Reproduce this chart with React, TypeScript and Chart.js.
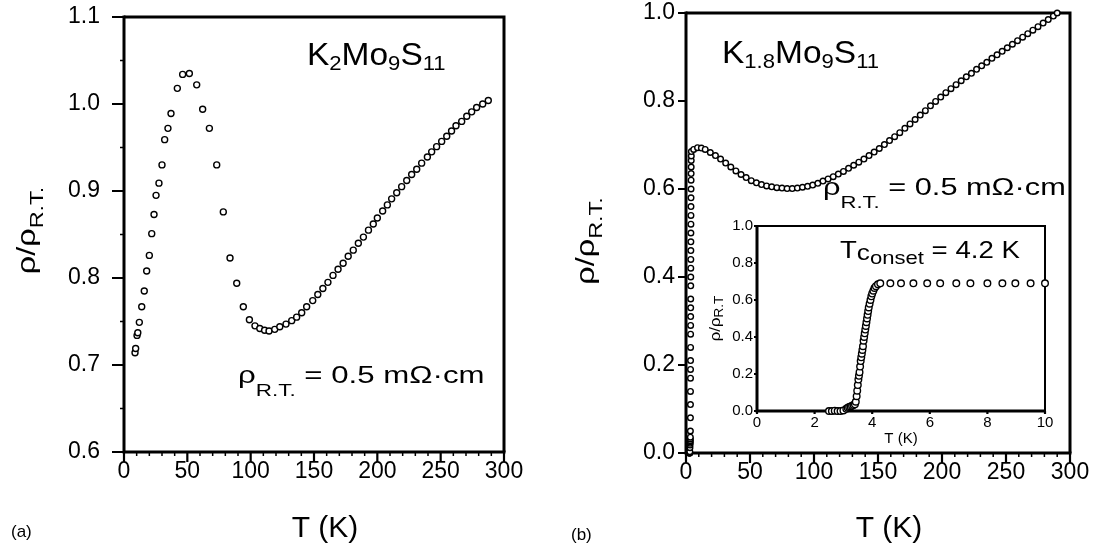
import React, { useEffect, useRef } from "react";
import { Chart, registerables } from "chart.js";

Chart.register(...registerables);

const FONT = "'Liberation Sans', Arial, Helvetica, sans-serif";

// ---------- Panel (a): K2Mo9S11 ----------
const aTemps = [8.7, 9.2, 10.3, 10.9, 12.1, 14.0, 16.0, 17.9, 20.0, 21.9, 23.7, 25.3, 27.6, 30.0, 32.1, 34.7, 37.1, 42.1, 46.3, 51.6, 57.4, 62.1, 67.4, 73.2, 78.4, 83.7, 89.0, 94.2, 99.0, 103.4, 107.2, 111.0, 114.5, 119.0, 123.0, 127.9, 132.4, 136.3, 140.3, 144.2, 149.0, 153.0, 157.0, 161.0, 165.0, 169.0, 173.0, 177.0, 181.0, 185.0, 189.0, 193.0, 196.8, 200.0, 204.2, 207.9, 211.3, 215.3, 219.2, 223.2, 227.1, 231.1, 235.0, 239.5, 242.9, 246.8, 250.8, 254.8, 258.6, 262.1, 266.6, 270.6, 274.5, 278.4, 283.2, 287.6];
const aRho = [0.714, 0.719, 0.734, 0.737, 0.749, 0.767, 0.785, 0.808, 0.826, 0.851, 0.873, 0.895, 0.909, 0.930, 0.959, 0.972, 0.989, 1.018, 1.034, 1.035, 1.022, 0.994, 0.972, 0.930, 0.876, 0.823, 0.794, 0.767, 0.752, 0.745, 0.742, 0.740, 0.739, 0.741, 0.744, 0.747, 0.751, 0.755, 0.760, 0.767, 0.774, 0.781, 0.788, 0.795, 0.803, 0.810, 0.817, 0.825, 0.832, 0.840, 0.847, 0.855, 0.862, 0.869, 0.877, 0.884, 0.891, 0.898, 0.905, 0.912, 0.919, 0.925, 0.932, 0.939, 0.945, 0.951, 0.957, 0.963, 0.969, 0.975, 0.980, 0.986, 0.991, 0.996, 1.000, 1.004];
const aXTicks = [0, 50, 100, 150, 200, 250, 300];
const aXMinor = [10, 20, 30, 40, 60, 70, 80, 90, 110, 120, 130, 140, 160, 170, 180, 190, 210, 220, 230, 240, 260, 270, 280, 290];
const aYTicks = [0.6, 0.7, 0.8, 0.9, 1.0, 1.1];
const aYMinor = [0.65, 0.75, 0.85, 0.95, 1.05];

// ---------- Panel (b): K1.8Mo9S11 ----------
const bTemps = [6, 9, 12, 15, 19, 23, 27, 31, 35, 39, 43, 47, 51, 55, 59, 63, 67, 71, 75, 79, 83, 87, 91, 95, 99, 103, 107, 111, 115, 119, 123, 127, 131, 135, 139, 143, 147, 151, 155, 159, 163, 167, 171, 175, 179, 183, 187, 191, 195, 199, 203, 207, 211, 215, 219, 223, 227, 231, 235, 239, 243, 247, 251, 255, 259, 263, 267, 271, 275, 279, 283, 287, 290];
const bRho = [0.690, 0.694, 0.693, 0.690, 0.683, 0.676, 0.668, 0.659, 0.650, 0.641, 0.633, 0.626, 0.619, 0.614, 0.610, 0.607, 0.605, 0.603, 0.602, 0.601, 0.601, 0.602, 0.604, 0.606, 0.609, 0.613, 0.618, 0.623, 0.628, 0.634, 0.640, 0.647, 0.654, 0.661, 0.668, 0.676, 0.684, 0.692, 0.701, 0.710, 0.719, 0.728, 0.738, 0.748, 0.758, 0.768, 0.778, 0.789, 0.799, 0.809, 0.819, 0.828, 0.837, 0.846, 0.855, 0.863, 0.872, 0.880, 0.888, 0.897, 0.905, 0.913, 0.921, 0.929, 0.937, 0.945, 0.953, 0.961, 0.969, 0.977, 0.985, 0.993, 1.000];
const bXTicks = [0, 50, 100, 150, 200, 250, 300];
const bXMinor = [10, 20, 30, 40, 60, 70, 80, 90, 110, 120, 130, 140, 160, 170, 180, 190, 210, 220, 230, 240, 260, 270, 280, 290];
const bYTicks = [0.0, 0.2, 0.4, 0.6, 0.8, 1.0];

// ---------- Inset: low-temperature transition ----------
const insetTemps = [2.5, 2.6, 2.7, 2.8, 2.9, 3.0, 3.1, 3.15, 3.2, 3.25, 3.3, 3.35, 3.4, 3.43, 3.46, 3.48, 3.5, 3.52, 3.54, 3.56, 3.58, 3.6, 3.62, 3.64, 3.66, 3.68, 3.7, 3.72, 3.74, 3.76, 3.78, 3.8, 3.82, 3.84, 3.86, 3.88, 3.91, 3.94, 3.97, 4.0, 4.04, 4.08, 4.13, 4.2, 4.28, 4.63, 5.0, 5.43, 5.91, 6.36, 6.92, 7.41, 8.0, 8.52, 8.97, 9.5, 10.0];
const insetRho = [0, 0, 0.002, 0, 0, 0.003, 0.012, 0.018, 0.022, 0.025, 0.028, 0.032, 0.036, 0.05, 0.08, 0.11, 0.14, 0.17, 0.19, 0.21, 0.24, 0.27, 0.29, 0.31, 0.33, 0.35, 0.38, 0.40, 0.42, 0.44, 0.46, 0.48, 0.50, 0.52, 0.54, 0.56, 0.58, 0.60, 0.62, 0.635, 0.65, 0.665, 0.675, 0.685, 0.69, 0.69, 0.69, 0.69, 0.69, 0.69, 0.69, 0.69, 0.69, 0.69, 0.69, 0.69, 0.69];
const insetXTicks = [0, 2, 4, 6, 8, 10];
const insetYTicks = [0.0, 0.2, 0.4, 0.6, 0.8, 1.0];

type Part = { t: string; sub?: boolean; scale?: number; dy?: number };
type RichOpts = { size: number; sx?: number; subScale?: number; subDy?: number; center?: boolean; rotate?: boolean };

function drawRich(ctx: CanvasRenderingContext2D, parts: Part[], x: number, y: number, o: RichOpts) {
  const sx = o.sx ?? 1;
  const ss = o.subScale ?? 0.68;
  const dy = o.subDy ?? 5;
  const sizeOf = (p: Part) => (p.scale ? o.size * p.scale : p.sub ? o.size * ss : o.size);
  const dyOf = (p: Part) => (p.dy !== undefined ? p.dy : p.sub ? dy : 0);
  ctx.save();
  ctx.fillStyle = "#000";
  ctx.textBaseline = "alphabetic";
  ctx.textAlign = "left";
  const widths = parts.map((p) => {
    ctx.font = `${sizeOf(p)}px ${FONT}`;
    return ctx.measureText(p.t).width;
  });
  const total = widths.reduce((a, b) => a + b, 0);
  ctx.translate(x, y);
  if (o.rotate) ctx.rotate(-Math.PI / 2);
  ctx.scale(sx, 1);
  let cx = o.center ? -total / 2 : 0;
  parts.forEach((p, i) => {
    ctx.font = `${sizeOf(p)}px ${FONT}`;
    ctx.fillText(p.t, cx, dyOf(p));
    cx += widths[i];
  });
  ctx.restore();
}

type TickSpec = {
  xMajor: number[];
  xMinor: number[];
  yMajor: number[];
  yMinor: number[];
  xMajorLen: number;
  xMinorLen: number;
  yMajorLen: number;
  yMinorLen: number;
  axisWidth: number;
  frameWidth: number;
  fillArea?: boolean;
};

function framePlugin(spec: TickSpec, texts: (ctx: CanvasRenderingContext2D, chart: any) => void) {
  return {
    id: "frame",
    beforeDraw(chart: any) {
      if (!spec.fillArea) return;
      const { left, top, right, bottom } = chart.chartArea;
      const ctx = chart.ctx;
      ctx.save();
      ctx.fillStyle = "#fff";
      ctx.fillRect(left, top, right - left, bottom - top);
      ctx.restore();
    },
    beforeDatasetsDraw(chart: any) {
      const ctx: CanvasRenderingContext2D = chart.ctx;
      const { left, top, right, bottom } = chart.chartArea;
      const xs = chart.scales.x;
      const ys = chart.scales.y;
      ctx.save();
      ctx.strokeStyle = "#000";
      ctx.lineCap = "butt";
      ctx.lineWidth = spec.frameWidth;
      ctx.beginPath();
      ctx.moveTo(left, top);
      ctx.lineTo(right, top);
      ctx.lineTo(right, bottom);
      ctx.stroke();
      ctx.lineWidth = spec.axisWidth;
      ctx.beginPath();
      ctx.moveTo(left, top - spec.frameWidth / 2);
      ctx.lineTo(left, bottom);
      ctx.lineTo(right + spec.frameWidth / 2, bottom);
      ctx.stroke();
      const tick = (vals: number[], len: number, w: number, axis: "x" | "y") => {
        ctx.lineWidth = w;
        ctx.beginPath();
        vals.forEach((v) => {
          if (axis === "x") {
            const px = xs.getPixelForValue(v);
            ctx.moveTo(px, bottom);
            ctx.lineTo(px, bottom + len);
          } else {
            const py = ys.getPixelForValue(v);
            ctx.moveTo(left, py);
            ctx.lineTo(left - len, py);
          }
        });
        ctx.stroke();
      };
      tick(spec.xMajor, spec.xMajorLen, 2.2, "x");
      tick(spec.xMinor, spec.xMinorLen, 1.5, "x");
      tick(spec.yMajor, spec.yMajorLen, 2.2, "y");
      tick(spec.yMinor, spec.yMinorLen, 1.5, "y");
      ctx.restore();
    },
    afterDraw(chart: any) {
      texts(chart.ctx, chart);
    },
  };
}

type ChartSpec = {
  points: { x: number; y: number }[];
  radius: number;
  xMin: number;
  xMax: number;
  yMin: number;
  yMax: number;
  xTicks: number[];
  yTicks: number[];
  xDecimals: number;
  yDecimals: number;
  fontSize: number;
  xPad: number;
  yPad: number;
  padding: { left: number; top: number; right: number; bottom: number };
  yWidth: number;
  xHeight: number;
  plugin: any;
};

function buildChart(canvas: HTMLCanvasElement, s: ChartSpec) {
  return new Chart(canvas, {
    type: "scatter",
    data: {
      datasets: [
        {
          data: s.points,
          showLine: false,
          pointStyle: "circle",
          pointRadius: s.radius,
          pointBorderWidth: 1.4,
          pointBorderColor: "#000",
          pointBackgroundColor: "#fff",
          clip: false as any,
        },
      ],
    },
    options: {
      animation: false,
      responsive: false,
      devicePixelRatio: 1,
      events: [],
      layout: { padding: s.padding },
      plugins: { legend: { display: false }, tooltip: { enabled: false } },
      scales: {
        x: {
          type: "linear",
          position: "bottom",
          min: s.xMin,
          max: s.xMax,
          grid: { display: false, drawTicks: false },
          border: { display: false },
          ticks: {
            color: "#000",
            font: { family: FONT, size: s.fontSize },
            padding: s.xPad,
            autoSkip: false,
            maxRotation: 0,
            callback: (v: any) => Number(v).toFixed(s.xDecimals),
          },
          afterBuildTicks: (scale: any) => {
            scale.ticks = s.xTicks.map((v) => ({ value: v }));
          },
          afterFit: (scale: any) => {
            scale.height = s.xHeight;
            scale.paddingLeft = 0;
            scale.paddingRight = 0;
            scale.paddingTop = 0;
            scale.paddingBottom = 0;
          },
        },
        y: {
          type: "linear",
          position: "left",
          min: s.yMin,
          max: s.yMax,
          grid: { display: false, drawTicks: false },
          border: { display: false },
          ticks: {
            color: "#000",
            font: { family: FONT, size: s.fontSize },
            padding: s.yPad,
            autoSkip: false,
            callback: (v: any) => Number(v).toFixed(s.yDecimals),
          },
          afterBuildTicks: (scale: any) => {
            scale.ticks = s.yTicks.map((v) => ({ value: v }));
          },
          afterFit: (scale: any) => {
            scale.width = s.yWidth;
            scale.paddingLeft = 0;
            scale.paddingRight = 0;
            scale.paddingTop = 0;
            scale.paddingBottom = 0;
          },
        },
      },
    } as any,
    plugins: [s.plugin],
  });
}

const rhoRT: Part[] = [{ t: "ρ" }, { t: "R.T.", sub: true }, { t: " = 0.5 mΩ·cm" }];

export default function App() {
  const aRef = useRef<HTMLCanvasElement>(null);
  const bRef = useRef<HTMLCanvasElement>(null);
  const iRef = useRef<HTMLCanvasElement>(null);

  useEffect(() => {
    const charts: Chart[] = [];

    charts.push(
      buildChart(aRef.current!, {
        points: aTemps.map((t, i) => ({ x: t, y: aRho[i] })),
        radius: 3,
        xMin: 0,
        xMax: 300,
        yMin: 0.6,
        yMax: 1.1,
        xTicks: aXTicks,
        yTicks: aYTicks,
        xDecimals: 0,
        yDecimals: 1,
        fontSize: 23,
        xPad: 6,
        yPad: 24,
        padding: { left: 0, top: 17, right: 36, bottom: 0 },
        yWidth: 124,
        xHeight: 96,
        plugin: framePlugin(
          {
            xMajor: aXTicks, xMinor: aXMinor, yMajor: aYTicks, yMinor: aYMinor,
            xMajorLen: 10, xMinorLen: 4, yMajorLen: 12, yMinorLen: 4,
            axisWidth: 3, frameWidth: 3,
          },
          (ctx, chart) => {
            const ca = chart.chartArea;
            drawRich(ctx, [{ t: "K" }, { t: "2", sub: true }, { t: "Mo" }, { t: "9", sub: true }, { t: "S" }, { t: "11", sub: true }], 307, 65, { size: 31, sx: 1.08, subScale: 0.66, subDy: 5 });
            drawRich(ctx, rhoRT, 238, 383, { size: 24, sx: 1.3, subScale: 0.72, subDy: 13 });
            drawRich(ctx, [{ t: "T (K)" }], (ca.left + ca.right) / 2 + 11, 537, { size: 30, center: true });
            drawRich(ctx, [{ t: "(a)" }], 11, 537, { size: 17 });
            drawRich(ctx, [{ t: "ρ/ρ" }, { t: "R.T.", sub: true }], 35, (ca.top + ca.bottom) / 2 - 4, { size: 26, sx: 1.25, subScale: 0.72, subDy: 8, center: true, rotate: true });
          }
        ),
      })
    );

    const bPoints = [
      ...insetTemps.filter((t) => t <= 4.2).map((t, i) => ({ x: t, y: insetRho[i] })),
      ...bTemps.map((t, i) => ({ x: t, y: bRho[i] })),
    ];
    charts.push(
      buildChart(bRef.current!, {
        points: bPoints,
        radius: 2.8,
        xMin: 0,
        xMax: 300,
        yMin: 0,
        yMax: 1.0,
        xTicks: bXTicks,
        yTicks: bYTicks,
        xDecimals: 0,
        yDecimals: 1,
        fontSize: 23,
        xPad: 6,
        yPad: 11,
        padding: { left: 0, top: 13, right: 29, bottom: 0 },
        yWidth: 146,
        xHeight: 95,
        plugin: framePlugin(
          {
            xMajor: bXTicks, xMinor: bXMinor, yMajor: bYTicks, yMinor: [],
            xMajorLen: 10, xMinorLen: 4, yMajorLen: 8, yMinorLen: 0,
            axisWidth: 3, frameWidth: 3,
          },
          (ctx, chart) => {
            const ca = chart.chartArea;
            drawRich(ctx, [{ t: "K" }, { t: "1.8", sub: true }, { t: "Mo" }, { t: "9", sub: true }, { t: "S" }, { t: "11", sub: true }], 722 - 540, 63, { size: 31, sx: 1.08, subScale: 0.66, subDy: 5 });
            drawRich(ctx, rhoRT, 823 - 540, 195, { size: 24, sx: 1.28, subScale: 0.72, subDy: 13 });
            drawRich(ctx, [{ t: "T (K)" }], (ca.left + ca.right) / 2 + 11, 537, { size: 30, center: true });
            drawRich(ctx, [{ t: "(b)" }], 571 - 540, 540, { size: 17 });
            drawRich(ctx, [{ t: "ρ/ρ" }, { t: "R.T.", sub: true }], 594 - 540, (ca.top + ca.bottom) / 2 + 8, { size: 26, sx: 1.25, subScale: 0.72, subDy: 8, center: true, rotate: true });
          }
        ),
      })
    );

    charts.push(
      buildChart(iRef.current!, {
        points: insetTemps.map((t, i) => ({ x: t, y: insetRho[i] })),
        radius: 3.3,
        xMin: 0,
        xMax: 10,
        yMin: 0,
        yMax: 1.0,
        xTicks: insetXTicks,
        yTicks: insetYTicks,
        xDecimals: 0,
        yDecimals: 1,
        fontSize: 15,
        xPad: 3,
        yPad: 4,
        padding: { left: 0, top: 26, right: 15, bottom: 0 },
        yWidth: 67,
        xHeight: 39,
        plugin: framePlugin(
          {
            xMajor: insetXTicks, xMinor: [], yMajor: insetYTicks, yMinor: [],
            xMajorLen: 3, xMinorLen: 0, yMajorLen: 3, yMinorLen: 0,
            axisWidth: 3, frameWidth: 2, fillArea: true,
          },
          (ctx, chart) => {
            const ca = chart.chartArea;
            drawRich(ctx, [{ t: "T" }, { t: "c", scale: 0.95, dy: 2 }, { t: "onset", sub: true }, { t: " = 4.2 K" }], 840 - 690, 258 - 200, { size: 23, sx: 1.2, subScale: 0.8, subDy: 6 });
            drawRich(ctx, [{ t: "T (K)" }], (ca.left + ca.right) / 2, 443 - 200, { size: 15, center: true });
            drawRich(ctx, [{ t: "ρ/ρ" }, { t: "R.T", sub: true }], 720 - 690, (ca.top + ca.bottom) / 2, { size: 15, sx: 1.12, subScale: 0.8, subDy: 3, center: true, rotate: true });
          }
        ),
      })
    );

    return () => charts.forEach((c) => c.destroy());
  }, []);

  const abs = (left: number, top: number, w: number, h: number): React.CSSProperties => ({
    position: "absolute", left, top, width: w, height: h, display: "block",
  });

  return (
    <div style={{ position: "fixed", left: 0, top: 0, width: 1099, height: 548, background: "#fff", overflow: "hidden" }}>
      <canvas ref={aRef} width={540} height={548} style={abs(0, 0, 540, 548)} />
      <canvas ref={bRef} width={559} height={548} style={abs(540, 0, 559, 548)} />
      <canvas ref={iRef} width={370} height={250} style={abs(690, 200, 370, 250)} />
    </div>
  );
}
